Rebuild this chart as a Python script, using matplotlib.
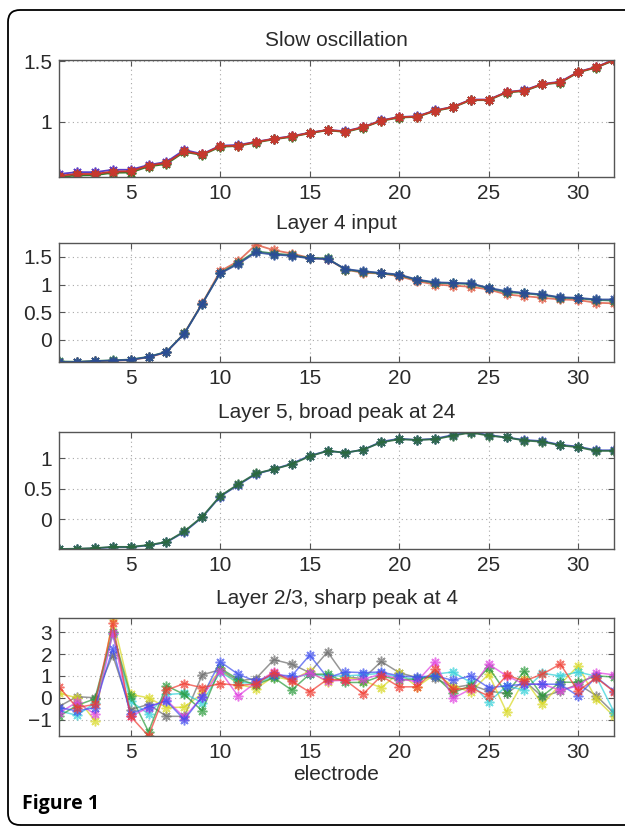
import matplotlib
matplotlib.use("Agg")
import matplotlib.pyplot as plt
from matplotlib.patches import FancyBboxPatch
from matplotlib.transforms import IdentityTransform
from matplotlib.ticker import FuncFormatter

plt.rcParams['font.family'] = ['Liberation Sans', 'DejaVu Sans']

electrodes = list(range(1, 33))
x_ticks = [5, 10, 15, 20, 25, 30]

# Slow oscillation
so_blue = [0.565, 0.58, 0.58, 0.60, 0.60, 0.64, 0.665, 0.765, 0.73, 0.80, 0.805, 0.832, 0.858, 0.878, 0.908, 0.93,
           0.92, 0.955, 1.01, 1.038, 1.043, 1.092, 1.122, 1.182, 1.182, 1.245, 1.26, 1.312, 1.33, 1.412, 1.452, 1.512]
so_green = [0.54, 0.553, 0.555, 0.575, 0.577, 0.627, 0.648, 0.748, 0.722, 0.79, 0.797, 0.826, 0.852, 0.873, 0.903, 0.927,
            0.913, 0.95, 1.005, 1.033, 1.038, 1.087, 1.117, 1.177, 1.177, 1.24, 1.253, 1.307, 1.322, 1.407, 1.447, 1.507]
so_red = [0.55, 0.565, 0.565, 0.585, 0.588, 0.635, 0.657, 0.754, 0.727, 0.796, 0.80, 0.83, 0.856, 0.876, 0.906, 0.93,
          0.917, 0.953, 1.008, 1.036, 1.041, 1.09, 1.12, 1.18, 1.18, 1.243, 1.257, 1.31, 1.326, 1.41, 1.45, 1.51]

# Layer 4 input
l4_blue = [-0.40, -0.40, -0.385, -0.373, -0.36, -0.31, -0.22, 0.11, 0.65, 1.20, 1.37, 1.58, 1.54, 1.52, 1.47, 1.46,
           1.28, 1.24, 1.21, 1.18, 1.09, 1.04, 1.03, 1.02, 0.94, 0.88, 0.85, 0.82, 0.77, 0.76, 0.73, 0.73]
l4_green = [-0.39, -0.395, -0.38, -0.37, -0.355, -0.305, -0.215, 0.115, 0.655, 1.21, 1.39, 1.60, 1.56, 1.53, 1.48, 1.47,
            1.27, 1.23, 1.20, 1.17, 1.08, 1.03, 1.02, 1.01, 0.93, 0.86, 0.84, 0.81, 0.76, 0.75, 0.72, 0.71]
l4_red = [-0.40, -0.40, -0.39, -0.375, -0.365, -0.315, -0.225, 0.12, 0.66, 1.24, 1.42, 1.72, 1.62, 1.56, 1.48, 1.46,
          1.27, 1.21, 1.20, 1.15, 1.06, 1.00, 0.98, 0.96, 0.91, 0.82, 0.79, 0.76, 0.73, 0.72, 0.67, 0.66]

# Layer 5
l5_blue = [-0.49, -0.49, -0.48, -0.46, -0.46, -0.43, -0.38, -0.21, 0.03, 0.37, 0.56, 0.74, 0.82, 0.91, 1.04, 1.12,
           1.09, 1.14, 1.27, 1.32, 1.30, 1.32, 1.38, 1.43, 1.38, 1.34, 1.30, 1.28, 1.22, 1.19, 1.13, 1.13]
l5_green = [-0.49, -0.485, -0.475, -0.455, -0.455, -0.425, -0.375, -0.20, 0.04, 0.38, 0.57, 0.75, 0.82, 0.90, 1.03, 1.12,
            1.09, 1.14, 1.26, 1.31, 1.30, 1.31, 1.37, 1.42, 1.37, 1.34, 1.29, 1.27, 1.21, 1.18, 1.12, 1.12]

# Layer 2/3
l23_blue = [-0.45, -0.6, -0.45, 2.25, -0.75, -0.4, -0.15, -1.0, 0.05, 1.65, 1.08, 0.75, 1.05, 1.0, 1.95, 0.92,
            1.18, 1.15, 1.18, 1.0, 0.95, 1.0, 0.8, 1.0, 0.46, 0.55, 0.62, 0.62, 0.62, 0.08, 0.95, 0.3]
l23_green = [-0.85, -0.35, -0.05, 3.0, 0.1, -1.55, 0.55, 0.15, -0.6, 1.35, 0.85, 0.6, 0.92, 0.35, 1.08, 1.08,
             0.7, 0.7, 1.0, 0.82, 0.85, 1.0, 0.23, 0.55, 1.38, 0.2, 1.23, 0.08, 0.72, 0.7, 1.0, 0.95]
l23_red = [0.5, -0.45, -0.3, 3.4, -0.85, -1.75, 0.35, 0.65, 0.46, 0.65, 0.57, 0.62, 1.15, 0.77, 0.26, 0.85,
           0.8, 0.18, 1.0, 0.5, 0.5, 1.3, 0.38, 0.45, 0.08, 1.03, 0.77, 1.08, 1.54, 0.3, 0.92, 0.28]
l23_cyan = [-0.6, -0.8, -0.25, 2.9, -0.15, -0.75, 0.15, 0.2, -0.23, 1.18, 0.7, 0.66, 1.0, 0.92, 1.08, 1.0,
            1.0, 1.05, 1.12, 0.95, 0.85, 1.08, 1.18, 0.7, -0.2, 0.54, 0.35, 1.12, 1.0, 1.18, 0.98, -0.65]
l23_magenta = [-0.7, -0.2, -0.75, 2.95, -0.85, -0.45, -0.1, -0.9, 0.05, 1.23, 0.08, 0.7, 1.18, 0.85, 1.15, 0.77,
               0.8, 0.85, 1.08, 0.85, 0.75, 1.65, -0.03, 0.4, 1.54, 1.0, 0.62, 0.62, 0.35, 0.54, 1.15, 1.05]
l23_yellow = [0.2, 0.0, -1.05, 3.65, 0.15, 0.0, -0.45, -0.43, 0.2, 1.28, 0.62, 0.42, 0.97, 0.8, 1.23, 0.7,
              0.95, 0.78, 0.46, 1.15, 0.5, 1.08, 0.55, 0.26, 1.08, -0.65, 0.85, -0.3, 0.62, 1.46, -0.05, -0.85]
l23_gray = [-0.4, 0.05, 0.0, 1.95, -0.55, -0.3, -0.85, -0.85, 1.05, 1.28, 0.77, 0.88, 1.74, 1.54, 1.15, 2.1,
            0.95, 0.88, 1.66, 1.15, 0.92, 0.92, 0.46, 0.6, 0.3, 0.2, 0.77, 0.05, 0.3, 0.62, 0.1, -0.7]

star = (8, 2, 0)
txt = '#2a2a2a'
fs = 15

fig = plt.figure(figsize=(6.25, 8.27), dpi=100)

# axes boxes in pixels (left, top, right, bottom)
boxes = [(59, 60, 614, 177), (59, 243, 614, 362), (59, 432, 614, 549), (59, 618, 614, 736)]
axes = []
for l, t, r, b in boxes:
    ax = fig.add_axes([l / 625, 1 - b / 827, (r - l) / 625, (b - t) / 827])
    axes.append(ax)


def style(ax, title, yticks, lo, hi):
    ax.set_xlim(1, 32)
    ax.set_ylim(lo, hi)
    ax.set_xticks(x_ticks)
    ax.set_yticks(yticks)
    ax.yaxis.set_major_formatter(FuncFormatter(lambda v, p: ('%g' % v).replace('-', '\u2212')))
    ax.grid(True, linestyle=(0, (1, 3)), color='#a8a8a8', linewidth=0.8)
    ax.tick_params(direction='in', top=True, right=True, length=4, width=0.8,
                   labelsize=fs, colors='#555555', labelcolor=txt, pad=5)
    for s in ax.spines.values():
        s.set_color('#555555')
        s.set_linewidth(1.0)
    ax.set_title(title, fontsize=fs, color=txt, pad=10)


ax = axes[0]
for ys, c in [(so_blue, '#5a3cc8'), (so_green, '#3a7a2a'), (so_red, '#c8372d')]:
    ax.plot(electrodes, ys, color=c, marker=star, markersize=7, linewidth=1.3, markeredgewidth=1.2)
style(ax, 'Slow oscillation', [1, 1.5], min(so_green), max(so_red))

ax = axes[1]
for ys, c in [(l4_red, '#e0604a'), (l4_green, '#2a7a4a'), (l4_blue, '#2a4a9a')]:
    ax.plot(electrodes, ys, color=c, marker=star, markersize=7, linewidth=1.3, markeredgewidth=1.2, alpha=0.85)
style(ax, 'Layer 4 input', [0, 0.5, 1, 1.5], min(l4_red), max(l4_red) + 0.03)

ax = axes[2]
for ys, c in [(l5_blue, '#3344bb'), (l5_green, '#2a6a3a')]:
    ax.plot(electrodes, ys, color=c, marker=star, markersize=7, linewidth=1.3, markeredgewidth=1.2, alpha=0.85)
style(ax, 'Layer 5, broad peak at 24', [0, 0.5, 1], min(l5_blue), max(l5_blue))

ax = axes[3]
bottom_series = [(l23_gray, '#6a6a6a'), (l23_yellow, '#d8d820'), (l23_cyan, '#30d0d8'), (l23_green, '#2a9a3a'),
                 (l23_magenta, '#e040e0'), (l23_blue, '#4050f0'), (l23_red, '#f03a30')]
for ys, c in bottom_series:
    ax.plot(electrodes, ys, color=c, marker=star, markersize=7, linewidth=1.1, markeredgewidth=1.1, alpha=0.7)
style(ax, 'Layer 2/3, sharp peak at 4', [-1, 0, 1, 2, 3], min(l23_red), max(l23_yellow))
ax.set_xlabel('electrode', fontsize=fs, color=txt, labelpad=2)

# rounded frame around the figure
frame = FancyBboxPatch((8, 2), 640, 815, boxstyle='round,pad=0,rounding_size=12',
                       transform=IdentityTransform(), fill=False, edgecolor='black', linewidth=1.3)
fig.patches.append(frame)

fig.text(22 / 625, 1 - 804 / 827, 'Figure 1', fontsize=14, fontweight='bold',
         family=['Open Sans', 'DejaVu Sans'], va='center', ha='left', color='black')

fig.savefig('out.png', dpi=100)
